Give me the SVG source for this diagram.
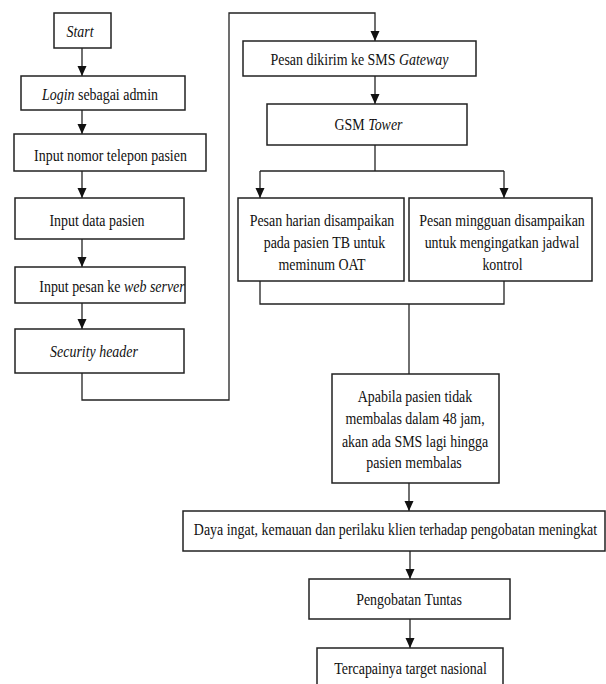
<svg xmlns="http://www.w3.org/2000/svg" width="606" height="684" viewBox="0 0 606 684">
<style>
.box{fill:#fff;stroke:#222;stroke-width:1.5}
.t{font-family:"Liberation Serif","Times New Roman",serif;font-size:17px;fill:#111;text-anchor:middle}
.i{font-style:italic}
.c{fill:none;stroke:#222;stroke-width:1.3}
</style>
<defs>
<marker id="ah" markerUnits="userSpaceOnUse" markerWidth="10" markerHeight="10" refX="10" refY="4.5" orient="auto">
<path d="M0,0 L10,4.5 L0,9 z" fill="#111"/>
</marker>
</defs>
<rect width="606" height="684" fill="#fff"/>
<g id="connectors">
<line class="c" x1="82" y1="48" x2="82" y2="76" marker-end="url(#ah)"/>
<line class="c" x1="82" y1="110" x2="82" y2="134" marker-end="url(#ah)"/>
<line class="c" x1="82" y1="171" x2="82" y2="198" marker-end="url(#ah)"/>
<line class="c" x1="82" y1="239" x2="82" y2="267" marker-end="url(#ah)"/>
<line class="c" x1="82" y1="303" x2="82" y2="329" marker-end="url(#ah)"/>
<polyline class="c" points="82,373 82,400 229,400 229,13 375,13 375,41" marker-end="url(#ah)"/>
<line class="c" x1="375" y1="76" x2="375" y2="104" marker-end="url(#ah)"/>
<line class="c" x1="375" y1="145" x2="375" y2="171"/>
<line class="c" x1="260" y1="171" x2="504" y2="171"/>
<line class="c" x1="260" y1="171" x2="260" y2="198" marker-end="url(#ah)"/>
<line class="c" x1="504" y1="171" x2="504" y2="198" marker-end="url(#ah)"/>
<polyline class="c" points="260,281 260,304 504,304 504,281"/>
<line class="c" x1="409" y1="304" x2="409" y2="374"/>
<line class="c" x1="409" y1="483" x2="409" y2="511" marker-end="url(#ah)"/>
<line class="c" x1="410" y1="551" x2="410" y2="579" marker-end="url(#ah)"/>
<line class="c" x1="410" y1="619" x2="410" y2="648" marker-end="url(#ah)"/>
</g>
<g id="start">
<rect class="box" x="54" y="13" width="57" height="35"/>
<text class="t i" transform="translate(80,37) scale(0.82,1)">Start</text>
</g>
<g id="login">
<rect class="box" x="21" y="76" width="164" height="34"/>
<text class="t" transform="translate(100,100) scale(0.82,1)"><tspan class="i">Login</tspan> sebagai admin</text>
</g>
<g id="input-nomor">
<rect class="box" x="14" y="134" width="192" height="37"/>
<text class="t" transform="translate(110.5,161) scale(0.82,1)">Input nomor telepon pasien</text>
</g>
<g id="input-data">
<rect class="box" x="15" y="198" width="169" height="41"/>
<text class="t" transform="translate(97,226) scale(0.82,1)">Input data pasien</text>
</g>
<g id="input-pesan">
<rect class="box" x="15" y="267" width="170" height="36"/>
<text class="t" transform="translate(112,292) scale(0.82,1)">Input pesan ke <tspan class="i">web server</tspan></text>
</g>
<g id="security">
<rect class="box" x="15" y="329" width="169" height="44"/>
<text class="t i" transform="translate(94,357) scale(0.82,1)">Security header</text>
</g>
<g id="gateway">
<rect class="box" x="243" y="41" width="233" height="35"/>
<text class="t" transform="translate(359.5,65) scale(0.82,1)">Pesan dikirim ke SMS <tspan class="i">Gateway</tspan></text>
</g>
<g id="gsm">
<rect class="box" x="267" y="104" width="200" height="41"/>
<text class="t" transform="translate(368.5,130) scale(0.82,1)">GSM <tspan class="i">Tower</tspan></text>
</g>
<g id="harian">
<rect class="box" x="238" y="198" width="166" height="83"/>
<text class="t" transform="translate(322,226) scale(0.82,1)">Pesan harian disampaikan</text>
<text class="t" transform="translate(324.5,248) scale(0.82,1)">pada pasien TB untuk</text>
<text class="t" transform="translate(322,270) scale(0.82,1)">meminum OAT</text>
</g>
<g id="mingguan">
<rect class="box" x="409" y="198" width="183" height="83"/>
<text class="t" transform="translate(502,226) scale(0.82,1)">Pesan mingguan disampaikan</text>
<text class="t" transform="translate(502,248) scale(0.82,1)">untuk mengingatkan jadwal</text>
<text class="t" transform="translate(502.5,270) scale(0.82,1)">kontrol</text>
</g>
<g id="apabila">
<rect class="box" x="332" y="374" width="167" height="109"/>
<text class="t" transform="translate(415,402) scale(0.82,1)">Apabila pasien tidak</text>
<text class="t" transform="translate(415,424) scale(0.82,1)">membalas dalam 48 jam,</text>
<text class="t" transform="translate(415,447) scale(0.82,1)">akan ada SMS lagi hingga</text>
<text class="t" transform="translate(414,468) scale(0.82,1)">pasien membalas</text>
</g>
<g id="daya">
<rect class="box" x="183" y="511" width="422" height="40"/>
<text class="t" transform="translate(395.5,535) scale(0.82,1)">Daya ingat, kemauan dan perilaku klien terhadap pengobatan meningkat</text>
</g>
<g id="tuntas">
<rect class="box" x="309" y="579" width="201" height="40"/>
<text class="t" transform="translate(409,605) scale(0.82,1)">Pengobatan Tuntas</text>
</g>
<g id="target">
<rect class="box" x="317" y="648" width="186" height="44"/>
<text class="t" transform="translate(410.5,674) scale(0.82,1)">Tercapainya target nasional</text>
</g>
</svg>
